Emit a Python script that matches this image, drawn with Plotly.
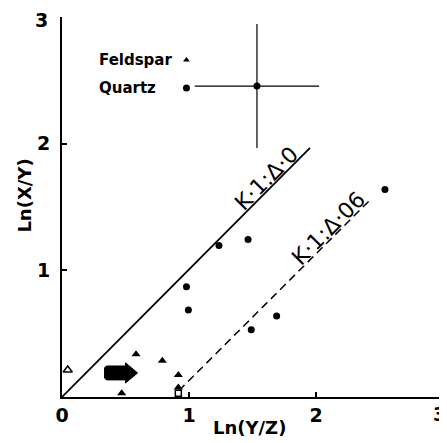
import plotly.graph_objects as go

# Quartz (filled circles)
quartz_x = [1.236, 1.465, 0.98, 0.995, 1.49, 1.69, 2.543]
quartz_y = [1.197, 1.244, 0.87, 0.687, 0.53, 0.64, 1.638]

# Feldspar (filled triangles)
feld_x = [0.583, 0.79, 0.916, 0.916, 0.47]
feld_y = [0.338, 0.287, 0.174, 0.075, 0.03]

# Feldspar (open symbols)
feld_open_x = [0.045]
feld_open_y = [0.213]
open_sq_x = [0.916]
open_sq_y = [0.03]

# Reference lines
line0_x = [0.0, 1.953]
line0_y = [0.0, 1.966]
line06_x = [0.92, 2.44]
line06_y = [0.05, 1.57]

# Error cross
err_x = [1.535]
err_y = [2.455]
err_dx = [0.49]
err_dy = [0.49]

# Arrow polygon
arrow_x = [0.35, 0.335, 0.335, 0.35, 0.50, 0.50, 0.595, 0.50, 0.50, 0.35]
arrow_y = [0.135, 0.15, 0.23, 0.245, 0.245, 0.27, 0.19, 0.11, 0.135, 0.135]

# Legend
legend_names = ["Feldspar", "Quartz"]
legend_x = [0.98, 0.98]
legend_y = [2.66, 2.44]
legend_text_x = 0.276

x_ticks = [0, 1, 2, 3]
x_ticklabels = ["0", "1", "2", ""]
y_ticks = [1, 2, 3]
y_ticklabels = ["1", "2", ""]
top_label = "3"

fig = go.Figure()

fig.add_trace(go.Scatter(x=line0_x, y=line0_y, mode="lines",
                         line=dict(color="black", width=1.8), showlegend=False))
fig.add_trace(go.Scatter(x=line06_x, y=line06_y, mode="lines",
                         line=dict(color="black", width=1.5, dash="8px,5px"), showlegend=False))
fig.add_trace(go.Scatter(x=arrow_x, y=arrow_y, mode="lines", fill="toself",
                         fillcolor="black", line=dict(color="black", width=1), showlegend=False))
fig.add_trace(go.Scatter(x=quartz_x, y=quartz_y, mode="markers",
                         marker=dict(symbol="circle", size=7, color="black"),
                         cliponaxis=False, showlegend=False))
fig.add_trace(go.Scatter(x=feld_x, y=feld_y, mode="markers",
                         marker=dict(symbol="triangle-up", size=8, color="black"),
                         cliponaxis=False, showlegend=False))
fig.add_trace(go.Scatter(x=feld_open_x, y=feld_open_y, mode="markers",
                         marker=dict(symbol="triangle-up-open", size=8, color="black",
                                     line=dict(width=1.5)),
                         cliponaxis=False, showlegend=False))
fig.add_trace(go.Scatter(x=open_sq_x, y=open_sq_y, mode="markers",
                         marker=dict(symbol="square-open", size=6, color="black",
                                     line=dict(width=1.5)),
                         cliponaxis=False, showlegend=False))
fig.add_trace(go.Scatter(x=err_x, y=err_y, mode="markers",
                         marker=dict(symbol="circle", size=7, color="black"),
                         error_x=dict(type="data", array=err_dx, color="black", thickness=1.2, width=0),
                         error_y=dict(type="data", array=err_dy, color="black", thickness=1.2, width=0),
                         showlegend=False))
fig.add_trace(go.Scatter(x=[legend_x[0]], y=[legend_y[0]], mode="markers",
                         marker=dict(symbol="triangle-up", size=6, color="black"), showlegend=False))
fig.add_trace(go.Scatter(x=[legend_x[1]], y=[legend_y[1]], mode="markers",
                         marker=dict(symbol="circle", size=7, color="black"), showlegend=False))

for name, ly in zip(legend_names, legend_y):
    fig.add_annotation(x=legend_text_x, y=ly, text="<b>%s</b>" % name, showarrow=False,
                       xanchor="left", yanchor="middle",
                       font=dict(family="DejaVu Sans", size=15, color="black"))

lbl_font = dict(family="DejaVu Sans", size=22, color="black")
fig.add_annotation(x=1.61, y=1.726, text="K·1:Δ·0", showarrow=False, textangle=-45,
                   font=lbl_font)
fig.add_annotation(x=2.097, y=1.331, text="K·1:Δ·06", showarrow=False, textangle=-45,
                   font=lbl_font)

title_font = dict(family="DejaVu Sans", size=18, color="black")
fig.add_annotation(x=0.493, y=0, xref="paper", yref="paper", text="<b>Ln(Y/Z)</b>",
                   showarrow=False, yanchor="middle", yshift=-30, font=title_font)
fig.add_annotation(x=0, y=0.53, xref="paper", yref="paper", text="<b>Ln(X/Y)</b>",
                   showarrow=False, xanchor="center", xshift=-37, textangle=-90,
                   font=title_font)

tick_font = dict(family="DejaVu Sans", size=19, color="black")
# "3" labels at the axis ends, kept inside the page
fig.add_annotation(x=0, y=3, xref="paper", yref="y", text="<b>%s</b>" % top_label,
                   showarrow=False, xanchor="right", yanchor="middle", xshift=-13, yshift=-3,
                   font=tick_font, borderpad=0)
fig.add_annotation(x=1, y=0, xref="paper", yref="paper", text="<b>%s</b>" % top_label,
                   showarrow=False, xanchor="right", yanchor="middle", xshift=4, yshift=-17,
                   font=tick_font, borderpad=0)

fig.update_layout(
    width=439, height=435,
    margin=dict(l=54, r=4, t=9, b=46, autoexpand=False),
    paper_bgcolor="white", plot_bgcolor="white",
    showlegend=False,
)
fig.update_xaxes(range=[0, 3], tickvals=x_ticks, ticktext=["<b>%s</b>" % v for v in x_ticklabels],
                 showline=True, linecolor="black", linewidth=2, showgrid=False, zeroline=False,
                 ticks="inside", ticklen=5, tickwidth=1.5, tickcolor="black",
                 ticklabelstandoff=0, automargin=False,
                 tickfont=tick_font)
fig.update_yaxes(range=[0, 3], tickvals=y_ticks, ticktext=["<b>%s</b>" % v for v in y_ticklabels],
                 showline=True, linecolor="black", linewidth=2, showgrid=False, zeroline=False,
                 ticks="inside", ticklen=5, tickwidth=1.5, tickcolor="black",
                 ticklabelstandoff=6, automargin=False, tickfont=tick_font)

fig.write_html("out.html")
